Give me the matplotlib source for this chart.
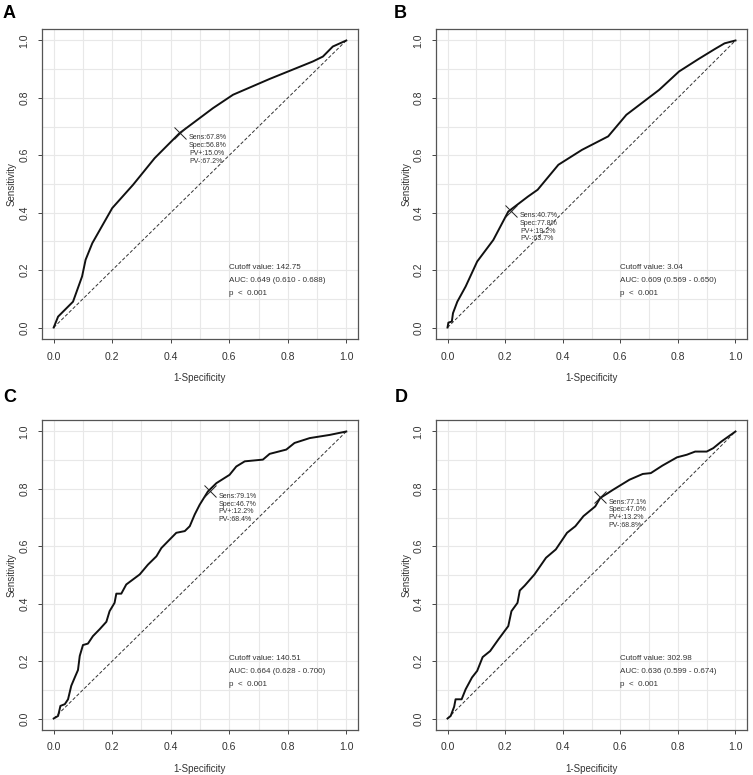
import matplotlib
matplotlib.use("Agg")
import matplotlib.pyplot as plt
import numpy as np

plt.rcParams['font.family'] = ['Liberation Sans', 'DejaVu Sans']

# ---- data (1-specificity, sensitivity) ----
a_fpr = [0, 0.015, 0.066, 0.097, 0.109, 0.132, 0.2, 0.271, 0.345, 0.43, 0.544, 0.613, 0.738, 0.886, 0.92, 0.954, 1.0]
a_tpr = [0, 0.038, 0.09, 0.178, 0.236, 0.294, 0.416, 0.497, 0.59, 0.677, 0.764, 0.811, 0.866, 0.927, 0.944, 0.979, 1.0]

b_fpr = [0, 0.003, 0.015, 0.019, 0.034, 0.063, 0.103, 0.159, 0.211, 0.279, 0.313, 0.385, 0.467, 0.558, 0.621, 0.735, 0.804, 0.871, 0.928, 0.962, 1.0]
b_tpr = [0, 0.017, 0.021, 0.05, 0.09, 0.143, 0.23, 0.305, 0.404, 0.456, 0.48, 0.567, 0.619, 0.666, 0.741, 0.828, 0.892, 0.935, 0.97, 0.99, 1.0]

c_fpr = [0, 0.015, 0.023, 0.038, 0.049, 0.06, 0.072, 0.083, 0.089, 0.1, 0.117, 0.134, 0.157, 0.18, 0.191, 0.208, 0.214,
         0.231, 0.248, 0.294, 0.322, 0.351, 0.368, 0.391, 0.419, 0.448, 0.465, 0.482, 0.499, 0.527, 0.556, 0.601, 0.624,
         0.653, 0.715, 0.738, 0.795, 0.823, 0.875, 0.943, 1.0]
c_tpr = [0, 0.009, 0.044, 0.05, 0.067, 0.114, 0.143, 0.169, 0.218, 0.256, 0.261, 0.287, 0.311, 0.337, 0.374, 0.403, 0.435,
         0.435, 0.467, 0.502, 0.536, 0.565, 0.594, 0.618, 0.647, 0.653, 0.67, 0.711, 0.745, 0.791, 0.82, 0.849, 0.878,
         0.896, 0.902, 0.922, 0.937, 0.96, 0.977, 0.988, 1.0]

d_fpr = [0, 0.011, 0.023, 0.028, 0.049, 0.063, 0.085, 0.103, 0.122, 0.148, 0.177, 0.211, 0.222, 0.243, 0.251, 0.268,
         0.302, 0.342, 0.376, 0.415, 0.444, 0.472, 0.513, 0.53, 0.575, 0.632, 0.678, 0.706, 0.746, 0.797, 0.831, 0.86,
         0.9, 0.923, 0.951, 1.0]
d_tpr = [0, 0.009, 0.041, 0.067, 0.067, 0.102, 0.143, 0.166, 0.214, 0.235, 0.276, 0.322, 0.374, 0.403, 0.446, 0.463,
         0.502, 0.56, 0.589, 0.647, 0.67, 0.705, 0.739, 0.768, 0.797, 0.832, 0.852, 0.855, 0.881, 0.91, 0.919, 0.93,
         0.93, 0.942, 0.965, 1.0]

panel_labels = ['A', 'B', 'C', 'D']
sens = [67.8, 40.7, 79.1, 77.1]
spec = [56.8, 77.8, 46.7, 47.0]
ppv = [15.0, 19.2, 12.2, 13.2]
npv = [67.2, 63.7, 68.4, 68.8]
cutoffs = ['142.75', '3.04', '140.51', '302.98']
aucs = ['0.649 (0.610 - 0.688)', '0.609 (0.569 - 0.650)', '0.664 (0.628 - 0.700)', '0.636 (0.599 - 0.674)']
pvals = ['p  <  0.001'] * 4
ticks = [0.0, 0.2, 0.4, 0.6, 0.8, 1.0]
tick_labels = ['0.0', '0.2', '0.4', '0.6', '0.8', '1.0']

curves = [(a_fpr, a_tpr), (b_fpr, b_tpr), (c_fpr, c_tpr), (d_fpr, d_tpr)]

W, H = 753, 775
fig = plt.figure(figsize=(W / 100, H / 100), dpi=100)

# axes boxes in pixels (left, top, right, bottom)
boxes = [(42, 29, 358, 339), (436, 29, 747, 339), (42, 420, 358, 730), (436, 420, 747, 730)]
letter_pos = [(3, 14), (394, 14), (3, 398), (395, 398)]

tc = '#333333'
for i, (fpr, tpr) in enumerate(curves):
    l, t, r, b = boxes[i]
    ax = fig.add_axes([l / W, 1 - b / H, (r - l) / W, (b - t) / H])
    ax.set_xlim(-0.04, 1.04)
    ax.set_ylim(-0.04, 1.04)
    gv = np.arange(0, 1.0001, 0.1)
    for g in gv:
        ax.axvline(g, color='#e8e8e8', lw=0.8, zorder=0)
        ax.axhline(g, color='#e8e8e8', lw=0.8, zorder=0)
    ax.plot([0, 1], [0, 1], color='#333333', lw=0.7, ls=(0, (3.5, 2)), zorder=2)
    ax.plot(fpr, tpr, color='#111111', lw=1.4, zorder=3)
    cx = 1 - spec[i] / 100
    cy = sens[i] / 100
    ax.plot([cx], [cy], marker='x', ms=9, mew=0.7, color='#222222', zorder=4)
    lines = ['Sens:%.1f%%' % sens[i], 'Spec:%.1f%%' % spec[i], 'PV+:%.1f%%' % ppv[i], 'PV-:%.1f%%' % npv[i]]
    for k, s in enumerate(lines):
        ax.text(cx + 0.03, cy - 0.017 - k * 0.027, s, fontsize=5.0, color=tc, va='center', ha='left', zorder=5)
    info = ['Cutoff value: ' + cutoffs[i], 'AUC: ' + aucs[i], pvals[i]]
    for k, s in enumerate(info):
        ax.text(0.6, 0.209 - k * 0.045, s, fontsize=5.8, color=tc, va='center', ha='left')
    ax.set_xticks(ticks)
    ax.set_yticks(ticks)
    ax.set_xticklabels(tick_labels)
    ax.set_yticklabels(tick_labels, rotation=90, va='center')
    ax.tick_params(direction='out', length=3, width=0.7, colors='#444444', labelsize=7.5, labelcolor=tc, pad=6)
    for sp in ax.spines.values():
        sp.set_color('#555555')
        sp.set_linewidth(0.9)
    ax.text(0.5, -0.126, '1-Specificity', transform=ax.transAxes, ha='center', va='center', fontsize=7, color=tc)
    ax.text(-0.095, 0.5, 'Sensitivity', transform=ax.transAxes, ha='center', va='center', fontsize=7,
            color=tc, rotation=90)
    lx, ly = letter_pos[i]
    fig.text(lx / W, 1 - ly / H, panel_labels[i], fontsize=13, fontweight='bold', ha='left', va='center')

fig.savefig('out.png', dpi=100, facecolor='white')
